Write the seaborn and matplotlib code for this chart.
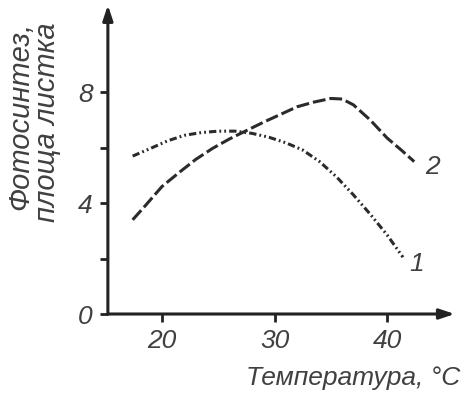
import seaborn as sns
import matplotlib.pyplot as plt

# Curve 1 (dash-dot-dot) and curve 2 (dashed)
temp_1 = [17.4, 19.0, 20.5, 22.0, 23.5, 25.0, 26.5, 28.0, 29.5, 31.0, 32.5, 34.0, 35.5, 37.0, 38.5, 40.0, 41.4]
photo_1 = [5.70, 5.98, 6.25, 6.45, 6.55, 6.60, 6.60, 6.52, 6.38, 6.18, 5.92, 5.50, 4.95, 4.30, 3.60, 2.85, 2.05]

temp_2 = [17.4, 18.5, 20.0, 21.5, 23.0, 24.5, 26.0, 27.5, 29.0, 30.5, 32.0, 33.5, 35.0, 36.0, 37.0, 38.5, 40.0, 41.3, 42.4]
photo_2 = [3.40, 3.90, 4.60, 5.10, 5.58, 5.98, 6.32, 6.62, 6.92, 7.20, 7.48, 7.65, 7.78, 7.76, 7.55, 7.00, 6.35, 5.90, 5.50]

curve_labels = ["1", "2"]
x_ticks = [20, 30, 40]
y_ticks = [0, 2, 4, 6, 8]
y_ticklabels = ["0", "", "4", "", "8"]

sns.set_style("white")
plt.rcParams['font.family'] = ['Liberation Sans', 'DejaVu Sans']
ink = "#404040"
fs = 19

fig = plt.figure(figsize=(4.65, 3.93), dpi=100)
ax = fig.add_axes([0.232, 0.201, 0.746, 0.786])

sns.lineplot(x=temp_1, y=photo_1, ax=ax, color="#2b2b2b", lw=2.2,
             linestyle=(0, (2.4, 1.0, 0.6, 1.0, 0.6, 1.0)))
sns.lineplot(x=temp_2, y=photo_2, ax=ax, color="#2b2b2b", lw=2.2,
             linestyle=(0, (4.2, 1.3)))

ax.text(42.6, 1.8, curve_labels[0], fontsize=fs, style="italic", color=ink,
        ha="center", va="center")
ax.text(44.0, 5.3, curve_labels[1], fontsize=fs, style="italic", color=ink,
        ha="center", va="center")

ax.set_xlim(15.2, 46.0)
ax.set_ylim(0, 11.15)
for s in ["top", "right", "left", "bottom"]:
    ax.spines[s].set_visible(False)

# axes with arrow heads
ax.annotate("", xy=(1.0, 0), xycoords="axes fraction", xytext=(0, 0),
            arrowprops=dict(arrowstyle="-|>,head_length=0.9,head_width=0.3",
                            color="#222222", lw=2.2, shrinkA=0, shrinkB=0))
ax.annotate("", xy=(0, 1.0), xycoords="axes fraction", xytext=(0, 0),
            arrowprops=dict(arrowstyle="-|>,head_length=0.9,head_width=0.3",
                            color="#222222", lw=2.2, shrinkA=0, shrinkB=0))

ax.set_xticks(x_ticks)
ax.set_xticklabels([str(t) for t in x_ticks])
ax.set_yticks(y_ticks)
ax.set_yticklabels(y_ticklabels)
ax.tick_params(axis="both", direction="out", length=6, width=2.0, color="#222222",
               labelsize=fs, labelcolor=ink)
ax.tick_params(axis="x", bottom=True, pad=5)
ax.tick_params(axis="y", left=True, pad=5)
for lab in ax.get_xticklabels() + ax.get_yticklabels():
    lab.set_style("italic")

fig.text(0.989, 0.038, "Температура, °C", fontsize=fs, style="italic",
         color=ink, ha="right", va="center")
fig.text(0.073, 0.944, "Фотосинтез,\nплоща листка", fontsize=21,
         style="italic", color=ink, rotation=90, ha="center", va="top",
         multialignment="right", linespacing=0.95)

fig.savefig("out.png", dpi=100)
